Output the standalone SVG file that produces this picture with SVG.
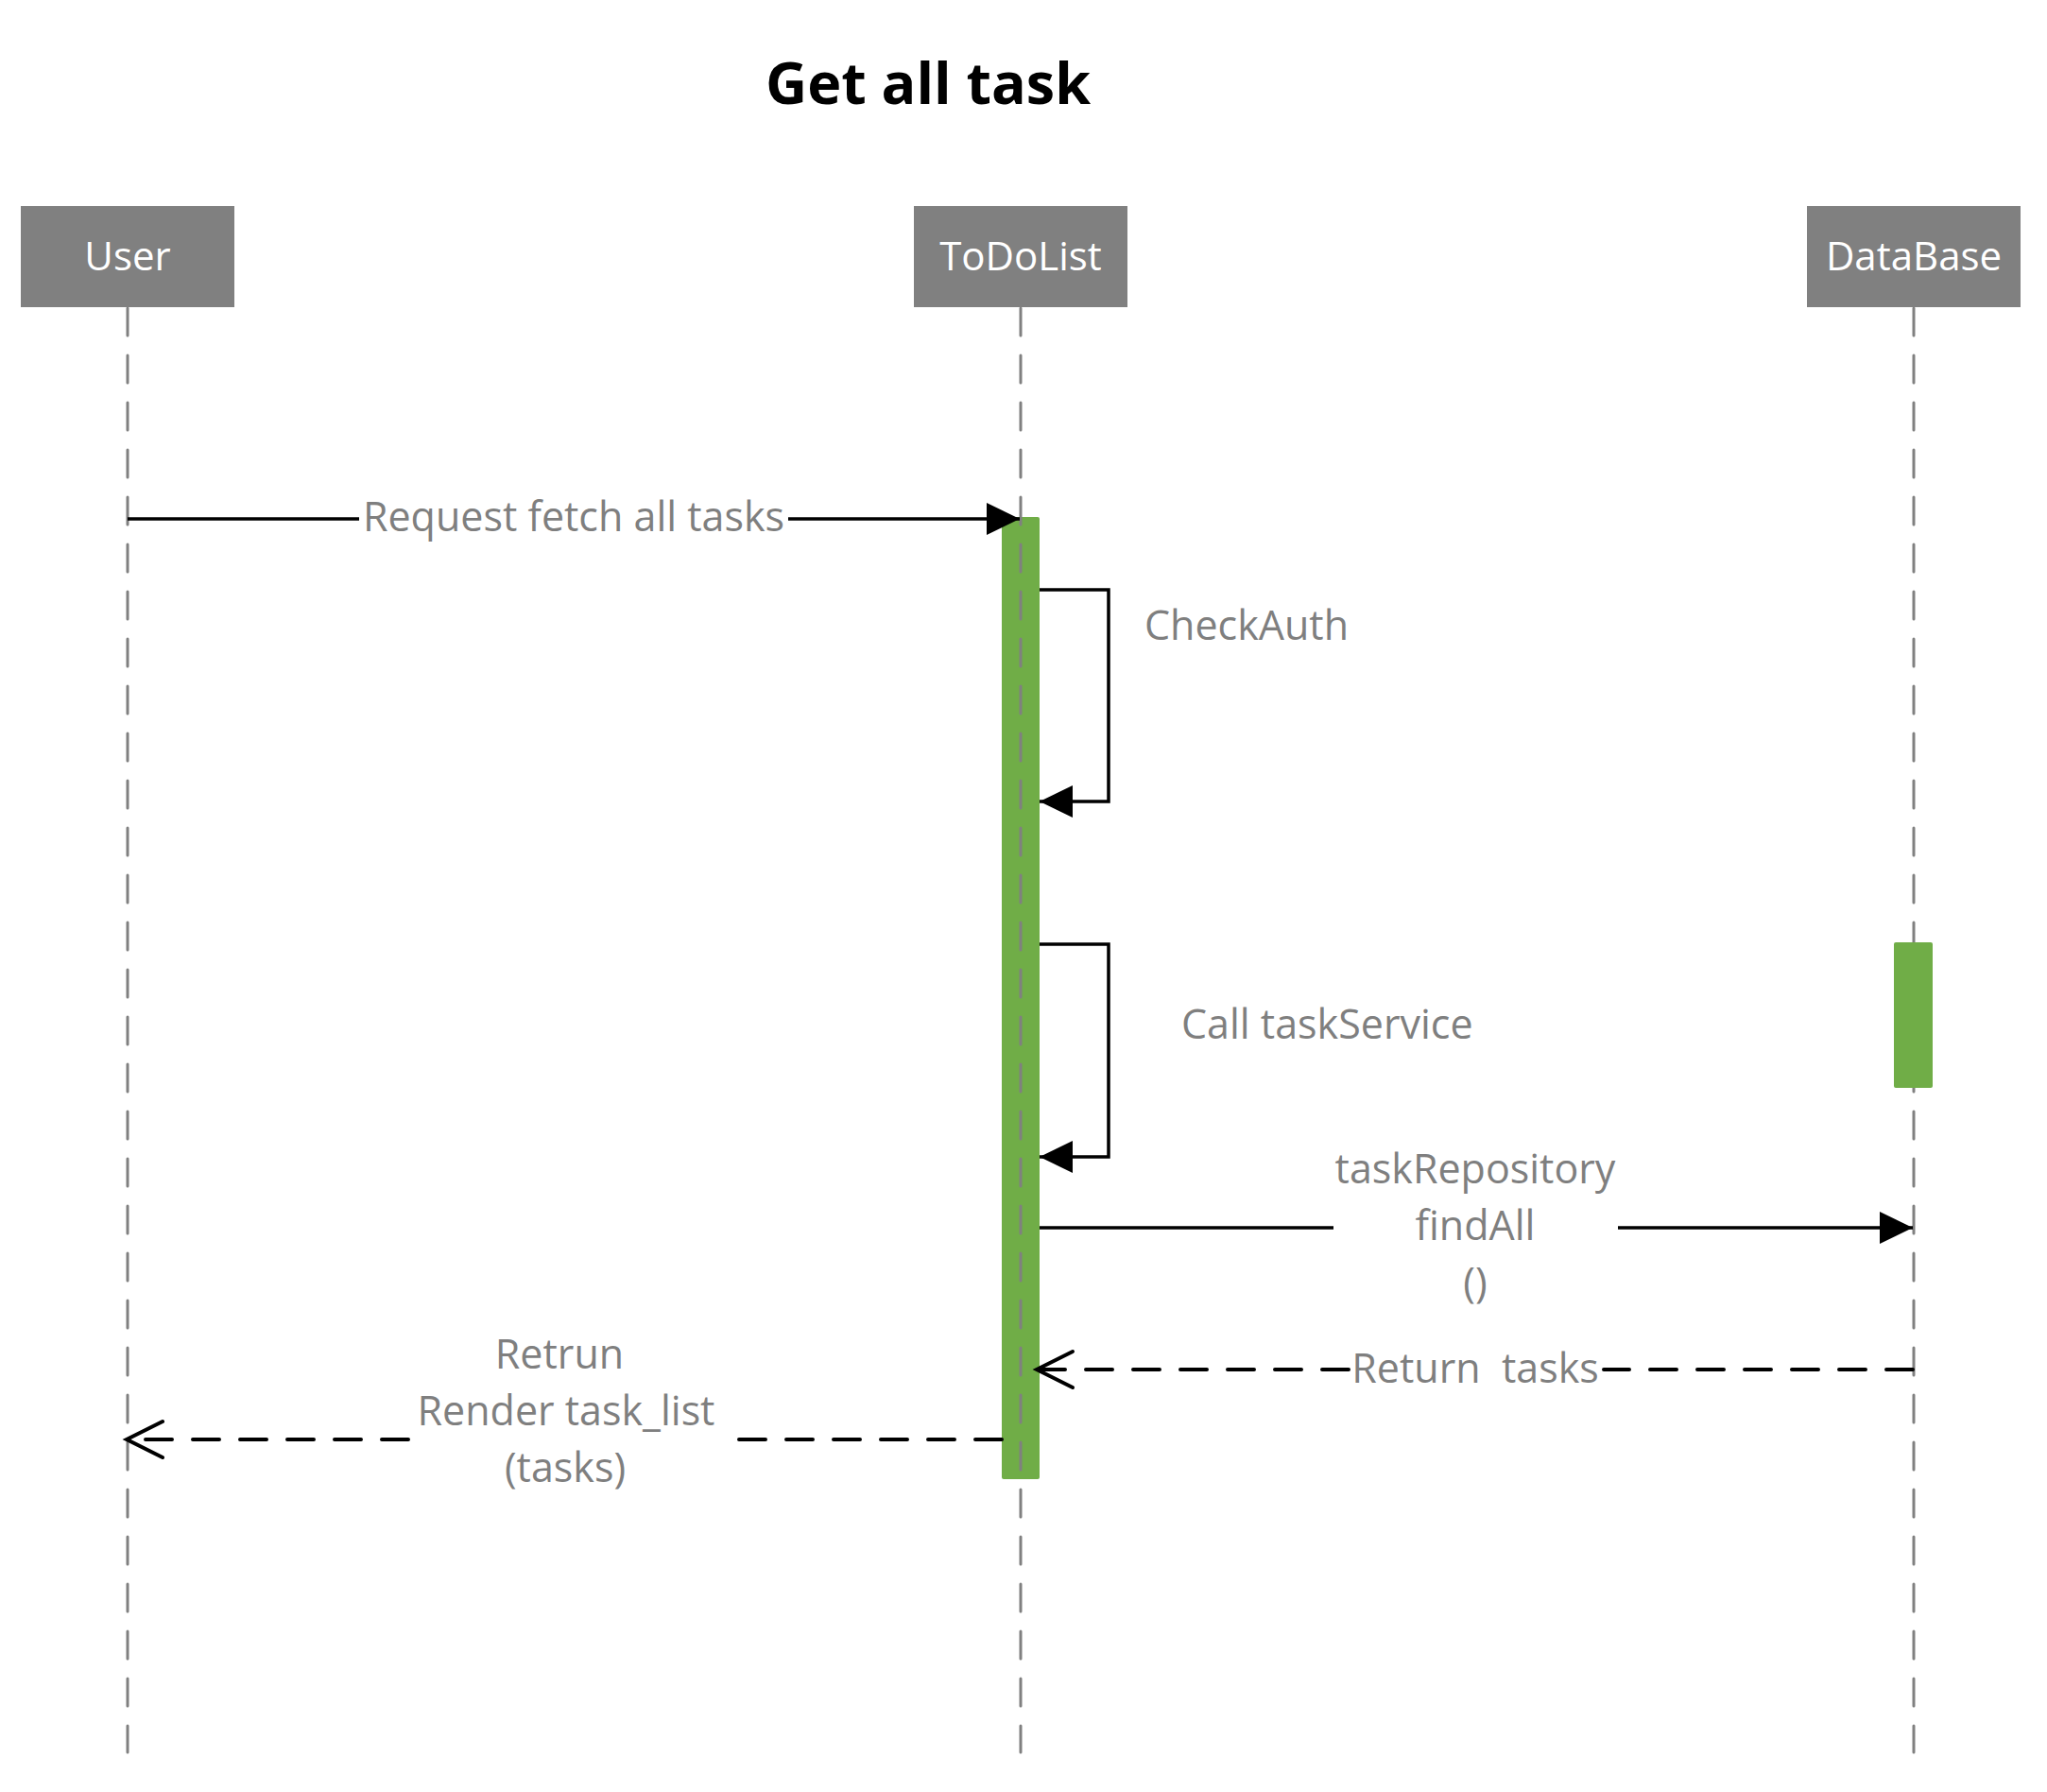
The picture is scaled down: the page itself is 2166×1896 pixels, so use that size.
<svg xmlns="http://www.w3.org/2000/svg" width="2166" height="1896" viewBox="0 0 2166 1896">
<style>
text{font-family:"Open Sans","Noto Sans","Liberation Sans",sans-serif;}
.title{font-size:61px;font-weight:bold;fill:#000;text-anchor:middle;}
.box{fill:#808080;}
.boxlabel{font-size:42px;fill:#fff;text-anchor:middle;}
.life{stroke:#808080;stroke-width:3;stroke-dasharray:29 21;stroke-linecap:round;fill:none;}
.act{fill:#70AD47;}
.lbl{font-size:43px;fill:#7f7f7f;}
.mid{text-anchor:middle;}
.msg{stroke:#000;stroke-width:3.5;fill:none;}
.ret{stroke:#000;stroke-width:4;fill:none;stroke-dasharray:28 22;stroke-linecap:round;}
</style>
<defs>
<marker id="filled" markerUnits="userSpaceOnUse" markerWidth="36" markerHeight="36" refX="35" refY="17" orient="auto" overflow="visible">
<path d="M0,0 L35,17 L0,34 z" fill="#000"/>
</marker>
<marker id="open" markerUnits="userSpaceOnUse" markerWidth="40" markerHeight="40" refX="38" refY="19" orient="auto" overflow="visible">
<path d="M0,0 L38,19 L0,38" fill="none" stroke="#000" stroke-width="4" stroke-linecap="round" stroke-linejoin="miter"/>
</marker>
</defs>
<rect width="2166" height="1896" fill="#fff"/>
<text class="title" x="982" y="110">Get all task</text>

<g id="DataBase">
<rect class="box" x="1912" y="218" width="226" height="107"/>
<text class="boxlabel" x="2025" y="286">DataBase</text>
<line class="life" x1="2025" y1="326" x2="2025" y2="1854"/>
<rect class="act" x="2004" y="997" width="41" height="154" rx="2"/>
</g>

<g id="User">
<rect class="box" x="22" y="218" width="226" height="107"/>
<text class="boxlabel" x="135" y="286">User</text>
<line class="life" x1="135" y1="326" x2="135" y2="1854"/>
</g>

<g id="ToDoList">
<rect class="box" x="967" y="218" width="226" height="107"/>
<text class="boxlabel" x="1080" y="286">ToDoList</text>
<rect class="act" x="1060" y="547" width="40" height="1018" rx="2"/>
<line class="life" x1="1080" y1="326" x2="1080" y2="1854"/>
</g>

<g id="connectors">
<path class="msg" d="M135,549 H380 M834,549 H1079" marker-end="url(#filled)"/>
<text class="lbl mid" x="607" y="562">Request fetch all tasks</text>

<path class="msg" d="M1100,624 H1173 V848 H1100" marker-end="url(#filled)"/>
<text class="lbl" x="1211" y="677">CheckAuth</text>

<path class="msg" d="M1100,999 H1173 V1224 H1100" marker-end="url(#filled)"/>
<text class="lbl" x="1250" y="1099">Call taskService</text>

<path class="msg" d="M1100,1299 H1411 M1712,1299 H2024" marker-end="url(#filled)"/>
<text class="lbl mid" x="1561" y="1252">taskRepository</text>
<text class="lbl mid" x="1561" y="1312">findAll</text>
<text class="lbl mid" x="1561" y="1372">()</text>

<path class="ret" d="M2024,1449 H1697 M1427,1449 H1097" marker-end="url(#open)"/>
<text class="lbl mid" x="1561" y="1463" xml:space="preserve">Return  tasks</text>

<path class="ret" d="M1060,1523 H763 M432,1523 H134" marker-end="url(#open)"/>
<text class="lbl mid" x="592" y="1448">Retrun</text>
<text class="lbl mid" x="599" y="1508">Render task_list</text>
<text class="lbl mid" x="598" y="1568">(tasks)</text>
</g>
</svg>
